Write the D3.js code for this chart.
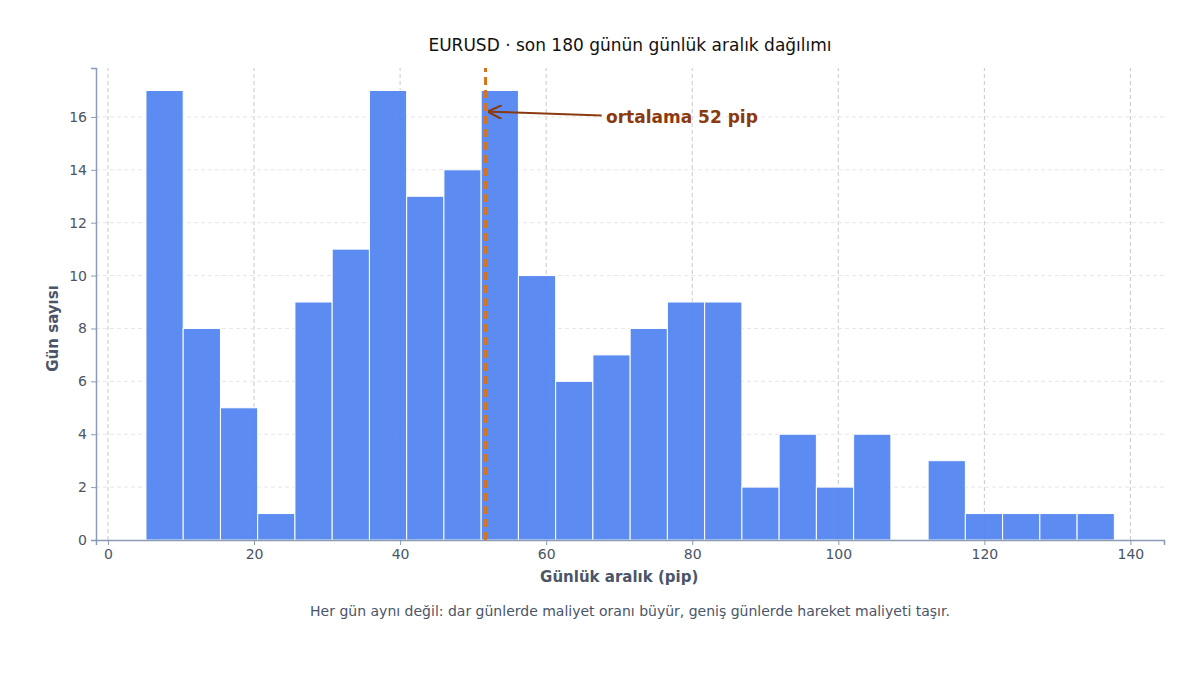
<!DOCTYPE html>
<html><head><meta charset="utf-8">
<script src="https://cdn.jsdelivr.net/npm/d3@7"></script>
<style>body{margin:0;background:#fff;font-family:"DejaVu Sans",sans-serif;}</style>
</head><body><div id="chart"></div>
<script>
// Histogram bins (pip) and day counts
const binStart = 5.2;
const binWidth = 5.1;
const counts = [17, 8, 5, 1, 9, 11, 17, 13, 14, 17, 10, 6, 7, 8, 9, 9, 2, 4, 2, 4, 0, 3, 1, 1, 1, 1];
const xTicks = [0, 20, 40, 60, 80, 100, 120, 140];
const yTicks = [0, 2, 4, 6, 8, 10, 12, 14, 16];
const meanPip = 51.7;

const width = 1200, height = 675;
const m = {left: 96, right: 36, top: 68, bottom: 135};

const svg = d3.select("#chart").append("svg")
    .attr("width", width).attr("height", height);

const x = d3.scaleLinear().domain([-1.64, 144.6]).range([m.left, width - m.right]);
const y = d3.scaleLinear().domain([0, 17.85]).range([height - m.bottom, m.top]);

// grid
svg.append("g").selectAll("line").data(xTicks).join("line")
    .attr("x1", d => x(d)).attr("x2", d => x(d))
    .attr("y1", y(0)).attr("y2", m.top)
    .attr("stroke", "#c8c8c8").attr("stroke-dasharray", "4,3");
svg.append("g").selectAll("line").data(yTicks.slice(1)).join("line")
    .attr("x1", m.left).attr("x2", width - m.right)
    .attr("y1", d => y(d)).attr("y2", d => y(d))
    .attr("stroke", "#e6e6e6").attr("stroke-dasharray", "4,3");

// bars
svg.append("g").selectAll("rect").data(counts).join("rect")
    .attr("x", (d, i) => x(binStart + i * binWidth))
    .attr("width", x(binWidth) - x(0))
    .attr("y", d => y(d))
    .attr("height", d => y(0) - y(d))
    .attr("fill", "#4a7ef0").attr("fill-opacity", 0.9)
    .attr("stroke", "#fff").attr("stroke-width", 1);

// axes
const xAxis = svg.append("g").attr("transform", `translate(0,${y(0)})`)
    .call(d3.axisBottom(x).tickValues(xTicks).tickSize(5).tickPadding(4));
const yAxis = svg.append("g").attr("transform", `translate(${m.left},0)`)
    .call(d3.axisLeft(y).tickValues(yTicks).tickSize(5).tickPadding(4));
[xAxis, yAxis].forEach(a => {
    a.select(".domain").attr("stroke", "#8a9bb5").attr("stroke-width", 1.5);
    a.selectAll(".tick line").attr("stroke", "#8a9bb5");
    a.selectAll("text").attr("fill", "#4a5568").attr("font-size", 14).attr("font-family", "DejaVu Sans");
});

// mean line
svg.append("line")
    .attr("x1", x(meanPip)).attr("x2", x(meanPip))
    .attr("y1", y(0)).attr("y2", m.top)
    .attr("stroke", "#d9731a").attr("stroke-width", 3).attr("stroke-dasharray", "8,5");

svg.append("defs").append("marker").attr("id", "arr")
    .attr("viewBox", "0 0 10 10").attr("refX", 9).attr("refY", 5)
    .attr("markerWidth", 7).attr("markerHeight", 7).attr("orient", "auto")
    .append("path").attr("d", "M0,0 L10,5 L0,10").attr("fill", "none").attr("stroke", "#8b3a10").attr("stroke-width", 1.5);
svg.append("line")
    .attr("x1", x(67.6)).attr("y1", y(16.05))
    .attr("x2", x(52.2)).attr("y2", y(16.2))
    .attr("stroke", "#8b3a10").attr("stroke-width", 2).attr("marker-end", "url(#arr)");
svg.append("text").attr("x", x(68.2)).attr("y", y(16) + 6)
    .attr("fill", "#8b3a10").attr("font-size", 17).attr("font-weight", "bold")
    .text("ortalama 52 pip");

// titles
svg.append("text").attr("x", 630).attr("y", 51).attr("text-anchor", "middle")
    .attr("font-size", 17).attr("fill", "#111").text("EURUSD · son 180 günün günlük aralık dağılımı");
svg.append("text").attr("x", x(70)).attr("y", 582).attr("text-anchor", "middle")
    .attr("font-size", 15).attr("font-weight", "bold").attr("fill", "#4a5568").text("Günlük aralık (pip)");
svg.append("text").attr("transform", `translate(58,${y(8)}) rotate(-90)`).attr("text-anchor", "middle")
    .attr("font-size", 15).attr("font-weight", "bold").attr("fill", "#4a5568").text("Gün sayısı");
svg.append("text").attr("x", 630).attr("y", 616).attr("text-anchor", "middle")
    .attr("font-size", 14).attr("fill", "#4a5568")
    .text("Her gün aynı değil: dar günlerde maliyet oranı büyür, geniş günlerde hareket maliyeti taşır.");
</script></body></html>
